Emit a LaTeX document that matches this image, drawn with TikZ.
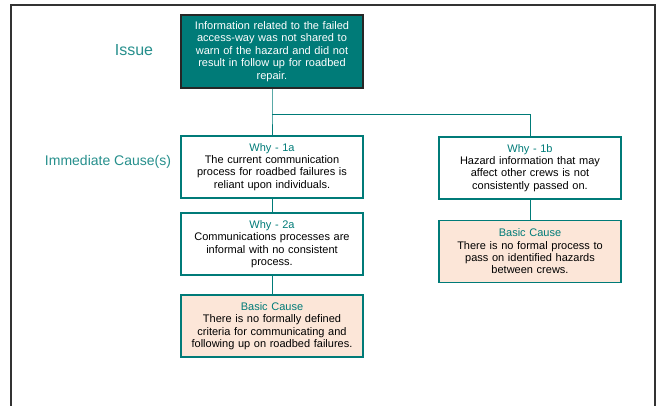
\documentclass[tikz,border=0pt]{standalone}
\usepackage{fontspec}
\setmainfont{Liberation Sans}
\usetikzlibrary{positioning}
\definecolor{rcaTeal}{HTML}{007B78}
\definecolor{rcaPeach}{HTML}{FCE6D8}
\tikzstyle{issuebox} = [rectangle, text width=178pt, minimum width=182pt, minimum height=73pt, inner sep=1pt, text centered, fill=rcaTeal, draw=black!85, line width=1.6pt, text=white, font=\fontsize{11}{12.5}\selectfont]
\tikzstyle{whybox} = [rectangle, text width=178pt, minimum width=182pt, minimum height=62pt, inner sep=1pt, text centered, draw=rcaTeal, line width=1.4pt, font=\fontsize{11}{12.3}\selectfont]
\tikzstyle{basicbox} = [whybox, fill=rcaPeach]
\tikzstyle{level} = [text=rcaTeal!85!white]
\tikzstyle{link} = [draw=rcaTeal, line width=0.9pt]

\begin{document}
\begin{tikzpicture}[x=1pt, y=-1pt]
    \useasboundingbox (0,0) rectangle (658,405);
    \draw[line width=1.3pt, black!80] (11,410) -- (11,5) -- (655,5) -- (655,410);

    \node[level, font=\fontsize{16}{18}\selectfont] (issuelbl) at (134,50) {Issue};
    \node[level, font=\fontsize{14}{16}\selectfont] (causelbl) at (108,162) {Immediate Cause(s)};

    \node(issue)[issuebox] at (272,51.5) {Information related to the failed\\access-way was not shared to\\warn of the hazard and did not\\result in follow up for roadbed\\repair.};

    \node(why1a)[whybox] at (272,167) {{\color{rcaTeal}Why - 1a}\\The current communication\\process for roadbed failures is\\reliant upon individuals.};
    \node(why2a)[whybox] at (272,244) {{\color{rcaTeal}Why - 2a}\\Communications processes are\\informal with no consistent\\process.};
    \node(basica)[basicbox] at (272,326) {{\color{rcaTeal}Basic Cause}\\There is no formally defined\\criteria for communicating and\\following up on roadbed failures.};

    \node(why1b)[whybox] at (530,168) {{\color{rcaTeal}Why - 1b}\\Hazard information that may\\affect other crews is not\\consistently passed on.};
    \node(basicb)[basicbox] at (530,251.5) {{\color{rcaTeal}Basic Cause}\\There is no formal process to\\pass on identified hazards\\between crews.};

    \coordinate (split) at (272,114);
    \draw[link] (issue.south) -- (split) -- (why1a.north);
    \draw[link] (split) -| (why1b.north);
    \draw[link] (why1a.south) -- (why2a.north);
    \draw[link] (why2a.south) -- (basica.north);
    \draw[link] (why1b.south) -- (basicb.north);

\end{tikzpicture}
\end{document}
